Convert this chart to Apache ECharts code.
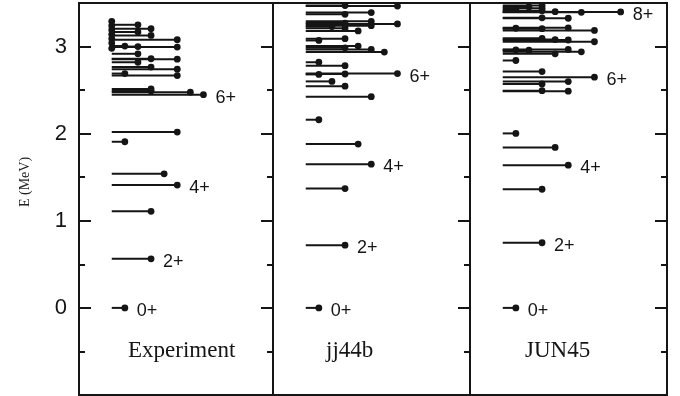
<!DOCTYPE html>
<html>
<head>
<meta charset="utf-8">
<script src="https://cdn.jsdelivr.net/npm/echarts@6/dist/echarts.min.js"></script>
<style>
  html, body { margin: 0; padding: 0; background: #fff; }
  #chart { width: 680px; height: 396px; }
</style>
</head>
<body>
<div id="chart"></div>
<script>
// levels: [energy MeV, spin J]  (J = -1 -> spin not assigned, dot at line start)
const EXP_LEVELS = [
  [0.000, 0], [0.563, 2], [1.108, 2], [1.410, 4], [1.539, 3], [1.907, 0], [2.018, 4],
  [2.448, 6], [2.476, 5], [2.490, 2], [2.514, 2],
  [2.667, 4], [2.690, 0], [2.740, 4], [2.764, 2], [2.820, 1],
  [2.855, 4], [2.860, 2], [2.917, 1], [2.994, 4], [3.000, 1], [3.006, 0],
  [3.078, 4], [3.128, 2], [3.167, 1], [3.205, 2], [3.250, 1],
  [2.980, -1], [3.040, -1], [3.090, -1], [3.140, -1], [3.190, -1], [3.240, -1], [3.290, -1]
];
const JJ44B_LEVELS = [
  [0.000, 0], [0.720, 2], [1.370, 2], [1.650, 4], [1.880, 3], [2.160, 0],
  [2.425, 4], [2.545, 2], [2.600, 1], [2.680, 0], [2.685, 2], [2.690, 6],
  [2.780, 2], [2.820, 0], [2.937, 5], [2.967, 4], [2.985, 2], [3.005, 3],
  [3.070, 0], [3.090, 2], [3.180, 3], [3.210, 2], [3.230, 1], [3.240, 4],
  [3.260, 6], [3.270, 2], [3.290, 4], [3.370, 2], [3.390, 4],
  [3.465, 6], [3.470, 2]
];
const JUN45_LEVELS = [
  [0.000, 0], [0.748, 2], [1.362, 2], [1.638, 4], [1.842, 3], [2.003, 0],
  [2.488, 4], [2.494, 2], [2.571, 2], [2.598, 4], [2.649, 6], [2.713, 2], [2.840, 0],
  [2.917, 3], [2.940, 5], [2.958, 1], [2.963, 0], [2.966, 4],
  [3.055, 6], [3.075, 4], [3.080, 3], [3.095, 2],
  [3.185, 6], [3.205, 2], [3.210, 0], [3.215, 4],
  [3.325, 4], [3.330, 2], [3.393, 5], [3.397, 8], [3.400, 3],
  [3.410, 2], [3.425, 0], [3.440, 2], [3.455, 1], [3.470, 2]
];

// yrast labels: [energy, spin, text]
const EXP_LABELS = [[0.000, 0, '0+'], [0.563, 2, '2+'], [1.410, 4, '4+'], [2.448, 6, '6+']];
const JJ44B_LABELS = [[0.000, 0, '0+'], [0.720, 2, '2+'], [1.650, 4, '4+'], [2.690, 6, '6+']];
const JUN45_LABELS = [[0.000, 0, '0+'], [0.748, 2, '2+'], [1.638, 4, '4+'], [2.649, 6, '6+'], [3.397, 8, '8+']];

const PANEL_NAMES = ['Experiment', 'jj44b', 'JUN45'];
const Y_TITLE = 'E (MeV)';

const INK = '#151515';
const SANS = '"Liberation Sans", Arial, Helvetica, sans-serif';
const SERIF = '"Liberation Serif", "Times New Roman", serif';

const panels = [
  { left: 79, width: 194, levels: EXP_LEVELS, labels: EXP_LABELS, nameX: 128 },
  { left: 273, width: 197, levels: JJ44B_LEVELS, labels: JJ44B_LABELS, nameX: 326 },
  { left: 470, width: 197, levels: JUN45_LEVELS, labels: JUN45_LABELS, nameX: 525 }
];
const PX_PER_SPIN = 13.1;
const X_MIN = -3.5;

function tickAxis(g, position, interval, len, withLabels) {
  return {
    gridIndex: g, type: 'value', position: position,
    min: -1, max: 3.5, interval: interval,
    axisLine: { show: false, onZero: false },
    splitLine: { show: false },
    axisTick: { show: true, inside: true, length: len, lineStyle: { color: INK, width: 2 } },
    axisLabel: {
      show: withLabels, margin: 12, color: INK, fontSize: 22, fontFamily: SANS,
      formatter: v => (v >= 0 && v <= 3 && Number.isInteger(v)) ? String(v) : ''
    }
  };
}

const grid = [], xAxis = [], yAxis = [], series = [];
panels.forEach((p, g) => {
  grid.push({ left: p.left, width: p.width, top: 3, bottom: 1, show: true, borderColor: INK, borderWidth: 2 });
  xAxis.push({ gridIndex: g, type: 'value', min: X_MIN, max: X_MIN + p.width / PX_PER_SPIN, show: false, axisLine: { onZero: false } });
  let seriesAxis;
  if (g === 0) {
    seriesAxis = yAxis.length;
    yAxis.push(tickAxis(g, 'left', 1, 12, true));
    yAxis.push(tickAxis(g, 'left', 0.5, 6, false));
  }
  if (seriesAxis === undefined) seriesAxis = yAxis.length;
  yAxis.push(tickAxis(g, 'right', 1, 12, false));
  yAxis.push(tickAxis(g, 'right', 0.5, 6, false));

  series.push({
    type: 'custom', xAxisIndex: g, yAxisIndex: seriesAxis, silent: true,
    data: p.levels.map(([e, j]) => [j, e]),
    renderItem: (params, api) => {
      const j = api.value(0), e = api.value(1);
      const a = api.coord([-1, e]);
      const b = api.coord([j, e]);
      return {
        type: 'group',
        children: [
          { type: 'line', shape: { x1: a[0], y1: a[1], x2: b[0], y2: b[1] }, style: { stroke: INK, lineWidth: 2 } },
          { type: 'circle', shape: { cx: b[0], cy: b[1], r: 3.4 }, style: { fill: INK } }
        ]
      };
    }
  });
  series.push({
    type: 'custom', xAxisIndex: g, yAxisIndex: seriesAxis, silent: true,
    data: p.labels.map(([e, j]) => [j, e]),
    renderItem: (params, api) => {
      const b = api.coord([api.value(0), api.value(1)]);
      return {
        type: 'text', x: b[0] + 12, y: b[1] + 3,
        style: { text: p.labels[params.dataIndex][2], fill: INK, fontSize: 18, fontFamily: SANS, align: 'left', verticalAlign: 'middle' }
      };
    }
  });
});

const chart = echarts.init(document.getElementById('chart'), null, { renderer: 'canvas' });
chart.setOption({
  animation: false,
  backgroundColor: '#fff',
  grid: grid,
  xAxis: xAxis,
  yAxis: yAxis,
  series: series,
  graphic: [
    {
      type: 'text', x: 25, y: 182, rotation: Math.PI / 2,
      style: { text: Y_TITLE, fill: '#222', fontSize: 14, fontFamily: SERIF, align: 'center', verticalAlign: 'middle' }
    }
  ].concat(panels.map((p, i) => ({
    type: 'text', x: p.nameX, y: 351,
    style: { text: PANEL_NAMES[i], fill: INK, fontSize: 23, fontFamily: SERIF, align: 'left', verticalAlign: 'middle' }
  })))
});
</script>
</body>
</html>
